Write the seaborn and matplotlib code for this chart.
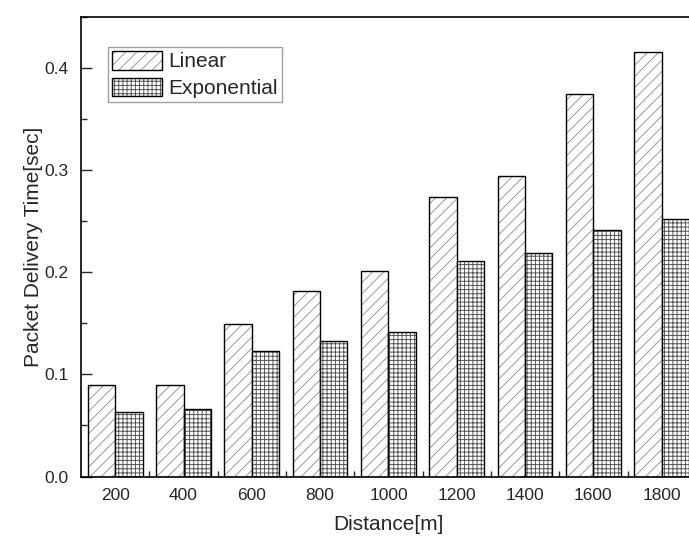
import matplotlib
matplotlib.use("Agg")
import matplotlib.pyplot as plt
import seaborn as sns
import pandas as pd
import numpy as np
from matplotlib.colors import to_rgba
from matplotlib.ticker import MultipleLocator, FixedLocator

distances = ["200", "400", "600", "800", "1000", "1200", "1400", "1600", "1800"]
linear = [0.090, 0.090, 0.149, 0.182, 0.201, 0.274, 0.294, 0.375, 0.416]
exponential = [0.063, 0.066, 0.123, 0.133, 0.142, 0.211, 0.219, 0.241, 0.252]
series = ["Linear", "Exponential"]

df = pd.DataFrame({
    "Distance": distances * 2,
    "Time": linear + exponential,
    "Method": [series[0]] * len(distances) + [series[1]] * len(distances),
})

sns.set_theme(style="ticks")
plt.rcParams["font.family"] = ["Liberation Sans", "DejaVu Sans"]
plt.rcParams["hatch.linewidth"] = 0.7

fig = plt.figure(figsize=(6.89, 5.38), dpi=100)
ax = fig.add_axes([0.1176, 0.1143, 0.8924, 0.8541])

sns.barplot(data=df, x="Distance", y="Time", hue="Method", order=distances,
            hue_order=series, palette=["white", "white"], width=0.8,
            edgecolor="black", linewidth=1.0, saturation=1, ax=ax, legend=True)

hatches = {"Linear": "///", "Exponential": "++++"}
hcolors = {"Linear": "#9a9a9a", "Exponential": "#555555"}
n = len(distances)
for i, cont in enumerate(ax.containers):
    name = series[i]
    for p in cont.patches:
        p.set_hatch(hatches[name])
        p.set_edgecolor("black")
        p._hatch_color = to_rgba(hcolors[name])

ax.set_ylim(0, 0.45)
ax.set_xlim(-0.5, n - 0.5)
ax.yaxis.set_major_locator(MultipleLocator(0.1))
ax.yaxis.set_minor_locator(MultipleLocator(0.05))
ax.xaxis.set_minor_locator(FixedLocator(np.arange(0.5, n - 0.5, 1.0)))
ax.tick_params(axis="x", which="major", length=0, labelsize=12.5, pad=8)
ax.tick_params(axis="x", which="minor", direction="in", length=4, width=1)
ax.tick_params(axis="y", which="major", direction="in", length=8, width=1,
               labelsize=12.5, pad=9)
ax.tick_params(axis="y", which="minor", direction="in", length=4, width=1)
ax.set_yticklabels([f"{v:.1f}" for v in ax.get_yticks()])

for s in ax.spines.values():
    s.set_linewidth(1.2)
    s.set_color("black")

ax.set_xlabel("Distance[m]", fontsize=15, labelpad=9)
ax.set_ylabel("Packet Delivery Time[sec]", fontsize=15, labelpad=1)

handles, labels = ax.get_legend_handles_labels()
for h, name in zip(handles, labels):
    h.set_hatch(hatches[name])
    h.set_edgecolor("black")
    h.set_facecolor("white")
    h._hatch_color = to_rgba(hcolors[name])
leg = ax.legend(handles, labels, loc="upper left", bbox_to_anchor=(0.044, 0.935),
                borderaxespad=0, fontsize=15, handlelength=2.4, handleheight=1.0,
                handletextpad=0.3, labelspacing=0.3, borderpad=0.2,
                frameon=True, fancybox=False, edgecolor="#888888")
leg.get_frame().set_linewidth(1.0)

fig.savefig("out.png", dpi=100)
